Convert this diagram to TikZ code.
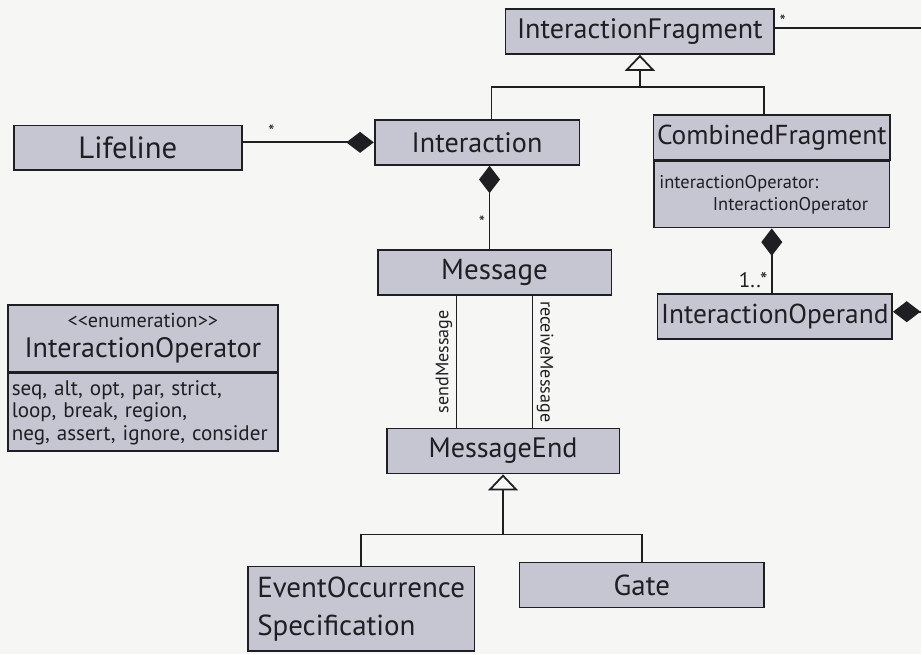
\documentclass[tikz,border=0pt]{standalone}
\usepackage{fontspec}
\setmainfont{PT Sans}
\usetikzlibrary{arrows.meta}

\definecolor{boxfill}{RGB}{198,198,210}
\definecolor{ink}{RGB}{30,30,35}
\definecolor{paper}{RGB}{246,246,244}

\begin{document}
\begin{tikzpicture}[x=0.02cm, y=-0.02cm, line width=1pt, ink,
    classbox/.style={draw=ink, fill=boxfill, minimum height=0.9cm, inner sep=2pt},
    partbox/.style={draw=ink, fill=boxfill, anchor=north, align=left, inner sep=3pt, font=\fontsize{10.5}{12.5}\selectfont},
    mult/.style={font=\fontsize{10}{11}\selectfont, inner sep=2pt},
    rolelabel/.style={font=\fontsize{10.3}{11}\selectfont, inner sep=2pt},
    gen/.style={-{Triangle[open, length=0.32cm, width=0.6cm]}},
    compo/.style={{Diamond[length=0.55cm, width=0.42cm]}-}]

        % paper, also fixes the size of the picture
        \fill[paper] (0,0) rectangle (922,655);

        % the plain class boxes
        \foreach \nm/\x/\y/\w/\fs/\txt in {frag/640.5/31.5/5.38/16/InteractionFragment,
                life/128/148/4.56/17.5/Lifeline, inter/477.5/142.5/4.1/16/Interaction,
                cfhead/772.5/137.5/4.7/15.6/CombinedFragment, operand/775.5/317/4.7/15.6/InteractionOperand,
                msg/495/272.5/4.68/16.5/Message, mend/503.5/451.5/4.66/16/MessageEnd,
                gate/642.5/585.5/4.9/16.5/Gate}
                \node[classbox, minimum width=\w cm, font=\fontsize{\fs}{18}\selectfont] (\nm) at (\x,\y) {\txt};

        \node[classbox, minimum width=4.54cm, minimum height=1.7cm, align=left,
                font=\fontsize{16.5}{22}\selectfont] (eos) at (361.5,609.5) {EventOccurrence\\Specification};

        % attribute part of CombinedFragment
        \node[partbox, minimum width=4.7cm, minimum height=1.32cm, text width=4.5cm] (cfbody) at (cfhead.south)
                {interactionOperator:\\\hspace*{2.9em}InteractionOperator};

        % the enumeration
        \node[classbox, minimum width=5.4cm, minimum height=1.34cm, align=center,
                font=\fontsize{16}{17.5}\selectfont] (enumhead) at (143,338.5)
                {{\fontsize{11.5}{13}\selectfont <\kern0pt<enumeration>\kern0pt>}\\InteractionOperator};
        \node[partbox, minimum width=5.4cm, minimum height=1.56cm, text width=5.25cm, inner xsep=2pt,
                font=\fontsize{12}{12.8}\selectfont] (enumbody) at (enumhead.south)
                {seq, alt, opt, par, strict,\\loop, break, region,\\neg, assert, ignore, consider};

        % generalization to InteractionFragment
        \coordinate (split1) at (640,87);
        \draw[gen] (frag.south |- split1) -- (frag.south);
        \draw ([xshift=0.29cm]inter.north) |- (split1) -| ([xshift=-0.15cm]cfhead.north);

        % association leaving InteractionFragment to the right
        \coordinate (fragend) at (922,28);
        \draw (frag.east |- fragend) -- (fragend) node[mult, pos=0, above right, yshift=-2pt] (m1) {*};

        % compositions
        \draw[compo] (inter.west) -- (inter.west -| life.east) node[mult, pos=0.78, above] (m2) {*};
        \draw[compo] ([xshift=0.25cm]inter.south) -- ([xshift=0.25cm]inter.south |- msg.north)
                node[mult, pos=0.68, left] (m3) {*};
        \draw[compo] (cfbody.south) -- (cfbody.south |- operand.north)
                node[mult, pos=0.8, left, font=\fontsize{12}{13}\selectfont] (m4) {1..*};
        \coordinate (opend) at (922,312);
        \draw[compo] (operand.east |- opend) -- (opend);

        % message ends
        \draw ([xshift=-0.76cm]msg.south) -- ([xshift=-0.76cm]msg.south |- mend.north)
                node[rolelabel, midway, rotate=90, anchor=south] (send) {sendMessage};
        \draw ([xshift=0.76cm]msg.south) -- ([xshift=0.76cm]msg.south |- mend.north)
                node[rolelabel, midway, rotate=-90, anchor=south] (recv) {receiveMessage};

        % generalization to MessageEnd
        \coordinate (split2) at (505,535);
        \draw[gen] (mend.south |- split2) -- (mend.south);
        \draw (eos.north) |- (split2) -| (gate.north);

\end{tikzpicture}
\end{document}
